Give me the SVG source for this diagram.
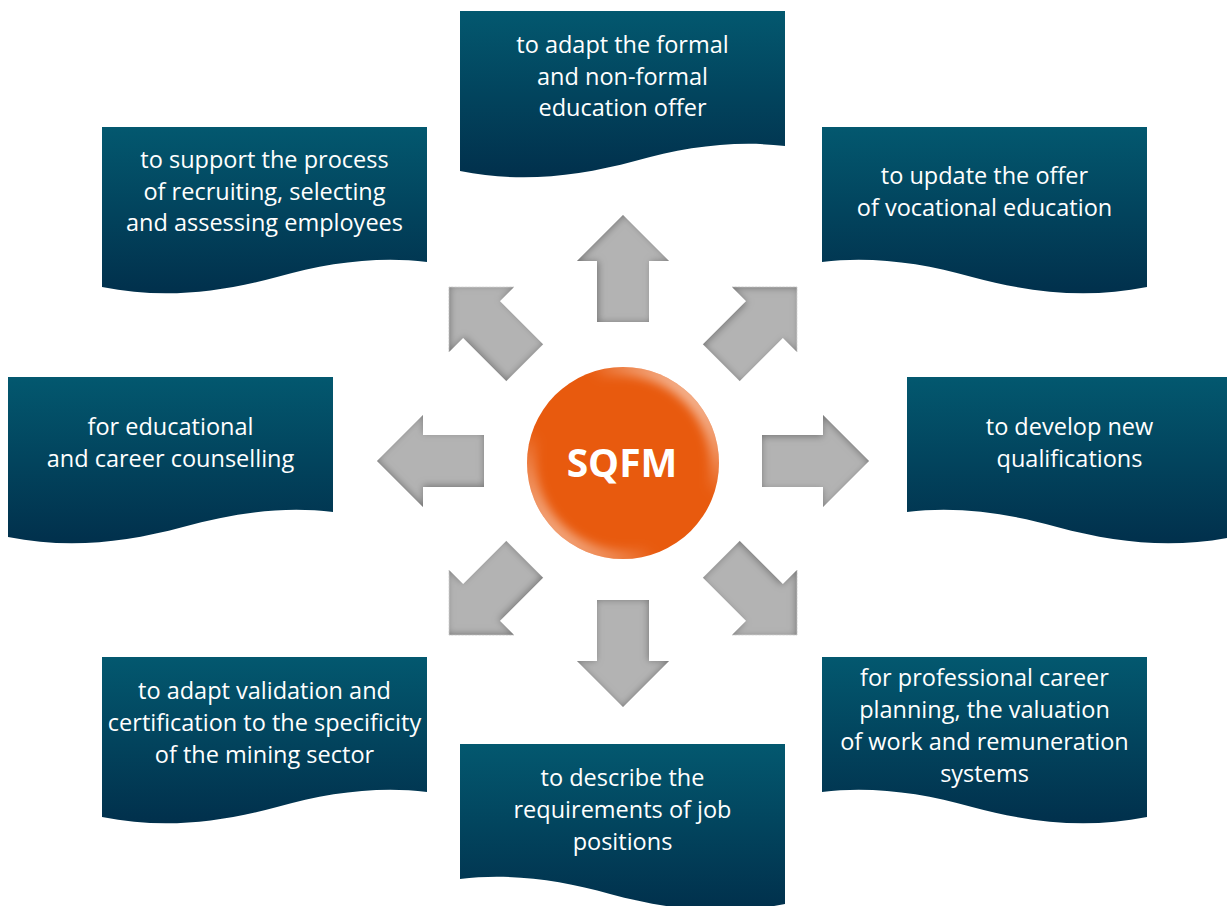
<svg xmlns="http://www.w3.org/2000/svg" xmlns:xlink="http://www.w3.org/1999/xlink" width="1227" height="906" viewBox="0 0 1227 906">
  <style>
    .doc { fill: url(#docFill); }
    .lbl { font-family: "Open Sans", "Noto Sans", sans-serif; font-size: 23.5px; fill: #ffffff; text-anchor: middle; }
    .hub { font-family: "Open Sans", "Noto Sans", sans-serif; font-size: 39px; font-weight: 700; fill: #ffffff; text-anchor: middle; }
    .arrow { fill: #b3b3b3; filter: url(#inset); }
  </style>
  <defs>
    <linearGradient id="docFill" x1="0" y1="0" x2="0" y2="1">
      <stop offset="0" stop-color="#03586f"/>
      <stop offset="1" stop-color="#01304c"/>
    </linearGradient>
    <!-- document shape with a wavy lower edge, 325 x 160 -->
    <path id="doc" d="M0,0 H325 V135 C275,129 225,136 175,150 C115,166 60,172 0,160 Z"/>
    <!-- arrow pointing up, placed relative to the hub centre (623,461) -->
    <path id="arrow" d="M623,215 L669,261 L649,261 L649,322 L597,322 L597,261 L577,261 Z"/>
    <filter id="inset" x="-20%" y="-20%" width="140%" height="140%">
      <feComponentTransfer in="SourceAlpha" result="inv">
        <feFuncA type="table" tableValues="1 0"/>
      </feComponentTransfer>
      <feGaussianBlur in="inv" stdDeviation="3.5" result="blur"/>
      <feOffset in="blur" dx="1.5" dy="0" result="off"/>
      <feFlood flood-color="#5e5e5e" flood-opacity="0.8" result="col"/>
      <feComposite in="col" in2="off" operator="in" result="shadow"/>
      <feComposite in="shadow" in2="SourceAlpha" operator="in" result="inner"/>
      <feMerge>
        <feMergeNode in="SourceGraphic"/>
        <feMergeNode in="inner"/>
      </feMerge>
    </filter>
    <linearGradient id="rim" x1="1" y1="0" x2="0" y2="1">
      <stop offset="0" stop-color="#ffffff" stop-opacity="0.9"/>
      <stop offset="0.35" stop-color="#ffffff" stop-opacity="0"/>
      <stop offset="0.65" stop-color="#ffffff" stop-opacity="0"/>
      <stop offset="1" stop-color="#ffffff" stop-opacity="0.75"/>
    </linearGradient>
    <clipPath id="hubClip">
      <circle cx="623" cy="463" r="96"/>
    </clipPath>
    <filter id="soft" x="-20%" y="-20%" width="140%" height="140%">
      <feGaussianBlur stdDeviation="5"/>
    </filter>
  </defs>

  <rect width="1227" height="906" fill="#ffffff"/>

  <!-- arrows radiating from the hub -->
  <g id="connectors">
    <use xlink:href="#arrow" class="arrow"/>
    <use xlink:href="#arrow" class="arrow" transform="rotate(45 623 461)"/>
    <use xlink:href="#arrow" class="arrow" transform="rotate(90 623 461)"/>
    <use xlink:href="#arrow" class="arrow" transform="rotate(135 623 461)"/>
    <use xlink:href="#arrow" class="arrow" transform="rotate(180 623 461)"/>
    <use xlink:href="#arrow" class="arrow" transform="rotate(225 623 461)"/>
    <use xlink:href="#arrow" class="arrow" transform="rotate(270 623 461)"/>
    <use xlink:href="#arrow" class="arrow" transform="rotate(315 623 461)"/>
  </g>

  <!-- hub -->
  <g id="node-sqfm">
    <circle cx="623" cy="463" r="96" fill="#e85a0e"/>
    <g clip-path="url(#hubClip)">
      <circle cx="623" cy="463" r="94" fill="none" stroke="url(#rim)" stroke-width="16" filter="url(#soft)"/>
    </g>
    <text class="hub" x="622" y="477">SQFM</text>
  </g>

  <g id="node-education-offer">
    <use xlink:href="#doc" class="doc" transform="translate(460,11)"/>
    <text class="lbl" x="622.5" y="53">to adapt the formal</text>
    <text class="lbl" x="622.5" y="85">and non-formal</text>
    <text class="lbl" x="622.5" y="116">education offer</text>
  </g>

  <g id="node-recruiting">
    <use xlink:href="#doc" class="doc" transform="translate(102,127)"/>
    <text class="lbl" x="264.5" y="168">to support the process</text>
    <text class="lbl" x="264.5" y="200">of recruiting, selecting</text>
    <text class="lbl" x="264.5" y="231">and assessing employees</text>
  </g>

  <g id="node-vocational">
    <use xlink:href="#doc" class="doc" transform="translate(1147,127) scale(-1,1)"/>
    <text class="lbl" x="984.5" y="184">to update the offer</text>
    <text class="lbl" x="984.5" y="216">of vocational education</text>
  </g>

  <g id="node-counselling">
    <use xlink:href="#doc" class="doc" transform="translate(8,377)"/>
    <text class="lbl" x="170.5" y="435">for educational</text>
    <text class="lbl" x="170.5" y="467">and career counselling</text>
  </g>

  <g id="node-qualifications">
    <use xlink:href="#doc" class="doc" transform="translate(1232,377) scale(-1,1)"/>
    <text class="lbl" x="1069.5" y="435">to develop new</text>
    <text class="lbl" x="1069.5" y="467">qualifications</text>
  </g>

  <g id="node-validation">
    <use xlink:href="#doc" class="doc" transform="translate(102,657)"/>
    <text class="lbl" x="264.5" y="699">to adapt validation and</text>
    <text class="lbl" x="264.5" y="731">certification to the specificity</text>
    <text class="lbl" x="264.5" y="763">of the mining sector</text>
  </g>

  <g id="node-job-positions">
    <use xlink:href="#doc" class="doc" transform="translate(785,744) scale(-1,1)"/>
    <text class="lbl" x="622.5" y="786">to describe the</text>
    <text class="lbl" x="622.5" y="818">requirements of job</text>
    <text class="lbl" x="622.5" y="850">positions</text>
  </g>

  <g id="node-career-planning">
    <use xlink:href="#doc" class="doc" transform="translate(1147,657) scale(-1,1)"/>
    <text class="lbl" x="984.5" y="686">for professional career</text>
    <text class="lbl" x="984.5" y="718">planning, the valuation</text>
    <text class="lbl" x="984.5" y="750">of work and remuneration</text>
    <text class="lbl" x="984.5" y="782">systems</text>
  </g>
</svg>
